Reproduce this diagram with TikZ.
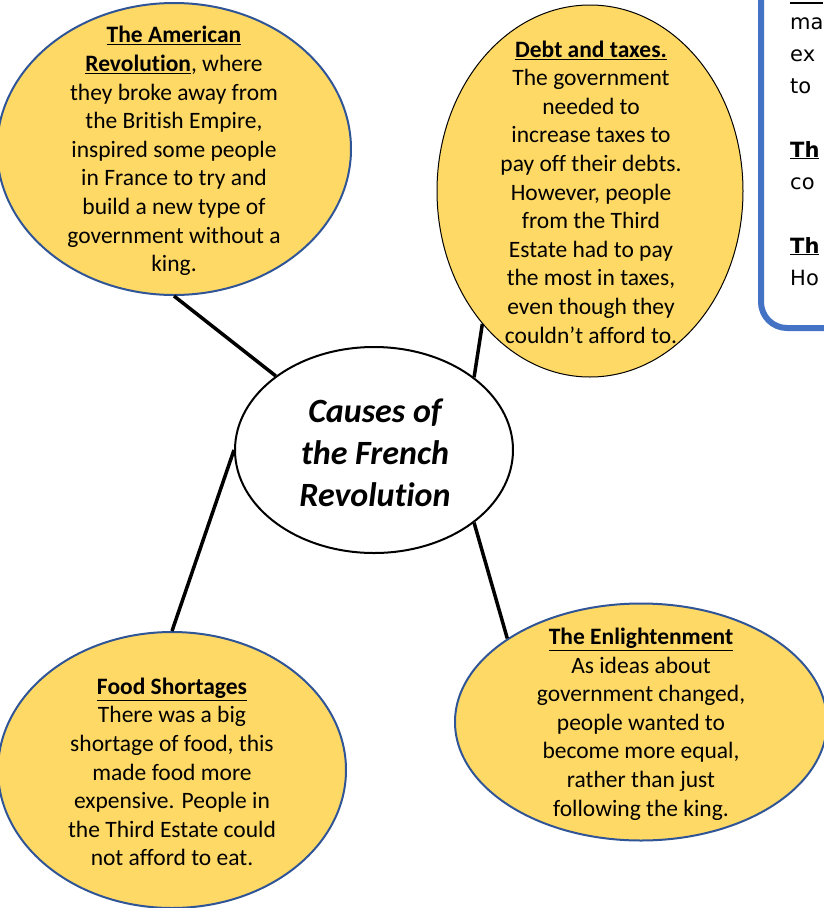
\documentclass[tikz,border=0pt]{standalone}
\usepackage{fontspec}
\setmainfont{Carlito}[Ligatures={NoCommon,NoRare,NoContextual}]
\newfontfamily\notefont{DejaVu Sans}
\usetikzlibrary{shapes.geometric}
\definecolor{bubblefill}{HTML}{FFD966}
\definecolor{bubbleedge}{HTML}{2F5597}
\definecolor{noteedge}{HTML}{4472C4}

\begin{document}
\begin{tikzpicture}[x=1pt,y=-1pt,
  bubble/.style={ellipse,draw=bubbleedge,line width=2pt,fill=bubblefill,inner sep=0pt},
  body/.style={align=center,inner sep=0pt,font=\fontsize{23.5}{28.6}\selectfont},
  note/.style={anchor=base west,inner sep=0pt,font=\notefont\fontsize{21}{32}\selectfont},
  link/.style={line width=3.5pt}]
\useasboundingbox (0,0) rectangle (823,908);

% the four causes and the middle
\node[bubble,minimum width=354pt,minimum height=292pt] (amer) at (174,149) {};
\node[bubble,draw=black,line width=1pt,minimum width=306pt,minimum height=372pt] (debt) at (590,191) {};
\node[bubble,minimum width=348pt,minimum height=276pt] (food) at (172,770) {};
\node[bubble,minimum width=372pt,minimum height=237pt] (enl) at (641,722) {};
\node[ellipse,draw,line width=2pt,fill=white,inner sep=0pt,minimum width=278pt,minimum height=206pt] (cause) at (374,450) {};

\draw[link] (amer.-90) -- (cause.143);
\draw[link] (debt.-129) -- (cause.36);
\draw[link] (food.90) -- (cause.180);
\draw[link] (enl.148) -- (cause.-36);

\node[body] (amertxt) at (174,151) {\underline{\textbf{The American}}\\
  \underline{\textbf{Revolution}}, where\\ they broke away from\\ the British Empire,\\
  inspired some people\\ in France to try and\\ build a new type of\\
  government without a\\ king.};
\node[body] (debttxt) at (591,192) {\underline{\textbf{Debt and taxes.}}\\
  The government\\ needed to\\ increase taxes to\\ pay off their debts.\\
  However, people\\ from the Third\\ Estate had to pay\\ the most in taxes,\\
  even though they\\ couldn’t afford to.};
\node[body] (foodtxt) at (172,772) {\underline{\textbf{Food Shortages}}\\
  There was a big\\ shortage of food, this\\ made food more\\
  expensive. People in\\ the Third Estate could\\ not afford to eat.};
\node[body] (enltxt) at (641,724) {\underline{\textbf{The Enlightenment}}\\
  As ideas about\\ government changed,\\ people wanted to\\
  become more equal,\\ rather than just\\ following the king.};
\node[align=center,inner sep=0pt,font=\fontsize{34}{42}\selectfont\bfseries\itshape]
  (title) at (375,453) {Causes of\\ the French\\ Revolution};

% box at the top right, mostly off the page
\draw[noteedge,line width=6pt,fill=white,rounded corners=26pt] (761,-40) rectangle (890,328);
\draw[line width=1.5pt] (790,3) -- (823,3);
\node[note] (n1) at (790,29) {ma};
\node[note] (n2) at (790,61) {ex};
\node[note] (n3) at (790,93) {to};
\node[note] (n4) at (790,157) {\underline{\textbf{Th}}};
\node[note] (n5) at (790,189) {co};
\node[note] (n6) at (790,253) {\underline{\textbf{Th}}};
\node[note] (n7) at (790,285) {Ho};
\end{tikzpicture}
\end{document}
